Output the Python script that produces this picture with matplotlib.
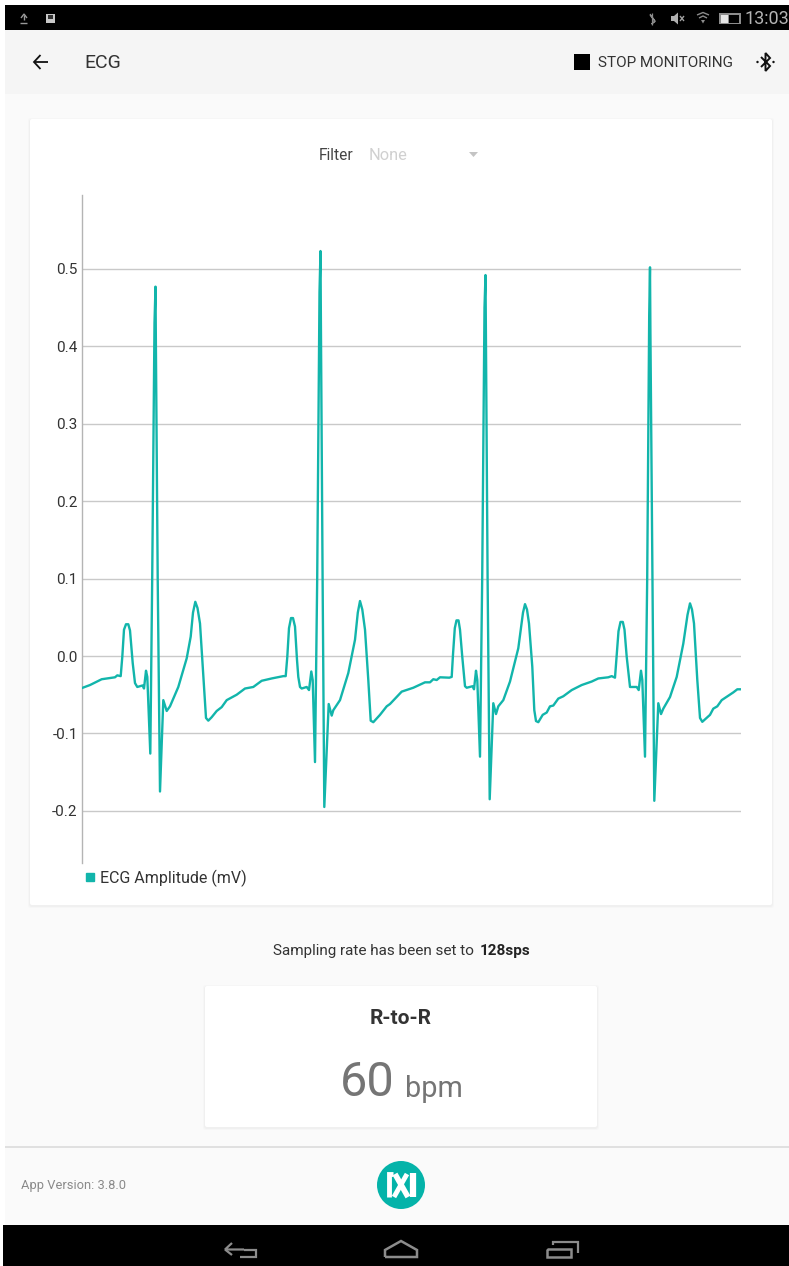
import matplotlib
matplotlib.use("Agg")
import matplotlib.pyplot as plt
from matplotlib.lines import Line2D
from matplotlib.patches import Rectangle, FancyBboxPatch, Circle, Polygon

plt.rcParams["font.family"] = ["Roboto", "DejaVu Sans"]

W, H = 789, 1266
TEAL = "#12b5ab"

# chart has no x axis, positions are just read along the trace
ecg_pos = [82.7, 90, 101.7, 115, 117.3, 120.7, 122.3, 124, 126, 128.3, 130, 132.7, 135, 137.3, 142.7, 144, 146, 147.3, 150.3,
           152.2, 154.5, 155.5, 155.9, 157.7, 160, 163.3, 166.7, 170, 178.3, 186.7, 190.7, 193, 195.3, 197.5, 200, 204, 206, 208.3,
           211.7, 216.7, 221.7, 226.7, 236.7, 245, 253.3, 261.7, 271.7, 283.3, 285.7, 287.3, 289, 291, 293,
           295, 297, 298.3, 300, 301.7, 306.7, 309, 311.3, 312.7, 315,
           317.2, 319.5, 320.5, 320.9, 322.6, 324.3, 328.7, 331.7, 333.3, 340, 348.3, 355, 357.8, 360, 362.3, 365, 368.3, 370.7, 373.3,
           380, 386.7, 390, 401.7, 413.3, 425, 430, 433.3, 436.7, 440, 449.3, 451.7, 453, 454.8, 456.5, 458.5, 460, 462.2, 465, 466.7,
           472.7, 474, 476, 477.3, 480,
           482.2, 484.5, 485.5, 485.9, 487.6, 489.7, 493.3, 496, 498.3, 503.3, 510, 518.3, 520.7, 523, 525, 527, 529, 532.3, 534.3,
           536, 538.3, 542.7, 546.7, 550, 553.3, 558.3, 563.3, 571.7, 581.7, 591.7, 598.3, 608.3, 611.7, 615, 616.8, 618.5,
           620.5, 622.8, 624.5, 626.7, 630, 636.7, 638.7, 641, 642.3, 645,
           647.2, 649.2, 650, 650.4, 652.4, 654.3, 658.3, 661, 663.3, 670, 676.7, 683.3, 687.5, 690, 692, 694, 697.3, 700, 702.3,
           710, 713.3, 717.3, 721.7, 733.3, 737.3, 740.7]
ecg_mv = [-0.041, -0.0375, -0.030, -0.0275, -0.025, -0.026, -0.001, 0.034, 0.041, 0.041, 0.033, -0.009, -0.035, -0.040, -0.038, -0.042,
          -0.019, -0.027, -0.126,
          0.100, 0.430, 0.477, 0.400, 0.100, -0.175, -0.057, -0.071, -0.065, -0.040, -0.003, 0.025, 0.056, 0.070, 0.062, 0.042, -0.040,
          -0.080, -0.0835,
          -0.079, -0.071, -0.066, -0.057, -0.050, -0.042, -0.040, -0.032, -0.029, -0.026, -0.026, -0.001, 0.036, 0.049, 0.049,
          0.038, -0.005, -0.027, -0.040, -0.042, -0.040, -0.044, -0.020, -0.031, -0.137,
          0.100, 0.470, 0.523, 0.430, 0.100, -0.195, -0.062, -0.077, -0.070, -0.057, -0.022, 0.021, 0.056, 0.071, 0.060, 0.034, -0.031,
          -0.0835, -0.0855,
          -0.076, -0.065, -0.062, -0.046, -0.041, -0.034, -0.034, -0.030, -0.031, -0.0275, -0.028, -0.027, 0.002, 0.036, 0.046, 0.046,
          0.034, 0.000, -0.039, -0.041,
          -0.039, -0.043, -0.019, -0.031, -0.130,
          0.100, 0.450, 0.492, 0.420, 0.100, -0.185, -0.061, -0.075, -0.065, -0.057, -0.033, 0.010, 0.034, 0.056, 0.067, 0.060, 0.042,
          -0.014, -0.070,
          -0.084, -0.0855, -0.076, -0.073, -0.065, -0.064, -0.055, -0.052, -0.044, -0.0375, -0.033, -0.029, -0.0275,
          -0.026, -0.028, 0.002, 0.032,
          0.044, 0.044, 0.034, -0.001, -0.040, -0.040, -0.044, -0.019, -0.031, -0.130,
          0.100, 0.440, 0.502, 0.420, 0.100, -0.187, -0.061, -0.075, -0.068, -0.053, -0.027, 0.016, 0.053, 0.068, 0.060, 0.042, -0.031,
          -0.080, -0.085,
          -0.076, -0.068, -0.065, -0.057, -0.047, -0.043, -0.043]
y_ticks = [-0.2, -0.1, 0.0, 0.1, 0.2, 0.3, 0.4, 0.5]
series_label = "ECG Amplitude (mV)"

fig = plt.figure(figsize=(W / 100, H / 100), dpi=100, facecolor="white")

# screen furniture, drawn in pixel coordinates of the screenshot
ui = fig.add_axes([0, 0, 1, 1])
ui.set_xlim(0, W)
ui.set_ylim(H, 0)
ui.axis("off")


def box(x0, y0, x1, y1, color, z=1):
    ui.add_patch(Rectangle((x0, y0), x1 - x0, y1 - y0, fc=color, ec="none", zorder=z))


def card(x0, y0, x1, y1):
    for grow, col in [(2, "#f6f6f6"), (1, "#f0f0f0")]:
        ui.add_patch(FancyBboxPatch((x0 - grow, y0 - grow + 1), x1 - x0 + 2 * grow, y1 - y0 + 2 * grow,
                                    boxstyle="round,pad=0,rounding_size=3", fc=col, ec="none", zorder=2))
    ui.add_patch(FancyBboxPatch((x0, y0), x1 - x0, y1 - y0, boxstyle="round,pad=0,rounding_size=2",
                                fc="white", ec="none", zorder=3))


def line(xs, ys, color, lw=1.5, z=5):
    ui.add_line(Line2D(xs, ys, color=color, lw=lw, zorder=z, solid_capstyle="butt", solid_joinstyle="miter"))


box(5, 5, W, H, "#fafafa", 0)
box(5, 5, W, 30, "#000000")
box(5, 30, W, 94, "#f5f5f5")
box(3, 1225, W, H, "#000000")
box(5, 1145.5, W, 1147.5, "#e0e0e0")
card(30, 119, 772, 905)
card(205, 986, 597, 1127)

# status bar
ui.text(789, 18.5, "13:03", color="#b4b4b4", fontsize=13, ha="right", va="center", zorder=6)
box(719, 13, 741, 24, "#8c8c8c", 5)
box(729, 14.5, 739.5, 22.5, "#000000", 6)
box(721, 14.5, 728, 22.5, "#e6e6e6", 6)
line([650, 655, 651.5, 655, 650], [15, 21.5, 24, 21, 14], "#8c8c8c", 0.9)
line([652, 652], [12.5, 24.5], "#8c8c8c", 0.9)
ui.add_patch(Polygon([[671, 16], [674, 16], [678, 12.5], [678, 24.5], [674, 21], [671, 21]], fc="#b0b0b0", ec="none", zorder=5))
line([680, 684], [16, 21], "#a0a0a0", 1)
line([684, 680], [16, 21], "#a0a0a0", 1)
line([697, 703, 709], [15, 12.5, 15], "#8c8c8c", 1)
line([699, 703, 707], [18, 16, 18], "#8c8c8c", 1)
ui.add_patch(Polygon([[701, 20], [705, 20], [703, 23.5]], fc="#8c8c8c", ec="none", zorder=5))
line([21, 24, 27], [18, 14, 18], "#9a9a9a", 1)
line([24, 24], [15, 20], "#9a9a9a", 1)
line([20.5, 27.5], [22.5, 22.5], "#9a9a9a", 1)
box(46, 13.5, 55, 23, "#c8c8c8", 5)
box(48, 15, 53, 19, "#333333", 6)

# toolbar
line([48.5, 34], [62, 62], "#111111", 1.3)
line([40.5, 34, 40.5], [55, 62, 69], "#111111", 1.3)
ui.text(84, 63, "ECG", color="#333333", fontsize=14, ha="left", va="center", zorder=6)
box(574, 54, 590, 70, "#000000", 5)
ui.text(598, 63, "STOP MONITORING", color="#333333", fontsize=11, ha="left", va="center", zorder=6)
line([761, 770, 765.5, 765.5, 770, 761], [57, 66, 71, 53, 58, 67], "#111111", 1.4)
ui.add_patch(Circle((757.5, 62), 1.2, fc="#111111", ec="none", zorder=5))
ui.add_patch(Circle((773.5, 62), 1.2, fc="#111111", ec="none", zorder=5))

# filter row
ui.text(319, 156, "Filter", color="#444444", fontsize=11.2, ha="left", va="center", zorder=6)
ui.text(369, 156, "None", color="#d0d0d0", fontsize=11.8, ha="left", va="center", zorder=6)
ui.add_patch(Polygon([[469, 152], [478, 152], [473.5, 157]], fc="#c4c4c4", ec="none", zorder=6))

# below the chart
ui.text(273, 951, "Sampling rate has been set to", color="#333333", fontsize=11, ha="left", va="center", zorder=6)
ui.text(480, 951, "128sps", color="#222222", fontsize=11, fontweight="bold", ha="left", va="center", zorder=6)
ui.text(401, 1018, "R-to-R", color="#333333", fontsize=15, fontweight="bold", ha="center", va="center", zorder=6)
ui.text(340, 1083, "60", color="#757575", fontsize=35, ha="left", va="center", zorder=6)
ui.text(405, 1089, "bpm", color="#757575", fontsize=20.8, ha="left", va="center", zorder=6)
ui.text(21, 1186, "App Version: 3.8.0", color="#8a8a8a", fontsize=9.3, ha="left", va="center", zorder=6)

# logo
ui.add_patch(Circle((401, 1185), 24, fc="#04b3a9", ec="none", zorder=5))
line([389, 389, 393], [1197, 1174, 1174], "white", 3.5, 6)
line([395, 408], [1174, 1197], "white", 4, 6)
line([407, 394], [1174, 1197], "white", 3.5, 6)
line([413, 413], [1173, 1197], "white", 4.5, 6)

# nav bar
line([244, 225, 232], [1249.5, 1249.5, 1243], "#8c8c8c", 1.6)
line([225, 232], [1249.5, 1255], "#8c8c8c", 1.6)
line([244, 256, 256, 240], [1249.5, 1249.5, 1257, 1257], "#8c8c8c", 1.6)
line([385, 385, 401, 417, 417, 385], [1257, 1250, 1241, 1250, 1257, 1257], "#8c8c8c", 1.8)
line([547, 547, 571, 571, 547], [1249, 1257, 1257, 1249, 1249], "#8c8c8c", 1.8)
line([553, 553, 578, 578], [1245, 1242, 1242, 1253], "#8c8c8c", 1.6)

# the chart itself
left, right, top, bottom = 82, 741, 195, 863
ax = fig.add_axes([left / W, 1 - bottom / H, (right - left) / W, (bottom - top) / H], zorder=2)
ax.patch.set_alpha(0)
ax.plot(ecg_pos, ecg_mv, color=TEAL, lw=1.7, solid_joinstyle="round", zorder=3)
ax.set_xlim(left, right)
ax.set_ylim((656 - bottom) / 774.3, (656 - top) / 774.3)
ax.set_xticks([])
ax.set_yticks(y_ticks)
ax.set_yticklabels([f"{v:.1f}" for v in y_ticks])
ax.yaxis.grid(True, color="#c9c9c9", lw=1.0)
ax.set_axisbelow(True)
ax.tick_params(axis="y", length=0, pad=3, labelsize=11, labelcolor="#333333")
for side in ["top", "right", "bottom"]:
    ax.spines[side].set_visible(False)
ax.spines["left"].set_color("#b4b4b4")
ax.spines["left"].set_linewidth(1)

handle = Line2D([], [], ls="none", marker="s", ms=5.6, color=TEAL)
fig.legend([handle], [series_label], loc="center left", bbox_to_anchor=(81 / W, 1 - 878 / H), frameon=False,
           fontsize=11.5, labelcolor="#333333", handletextpad=0.0, borderpad=0, borderaxespad=0, handlelength=1.17)

fig.savefig("out.png", dpi=100)
